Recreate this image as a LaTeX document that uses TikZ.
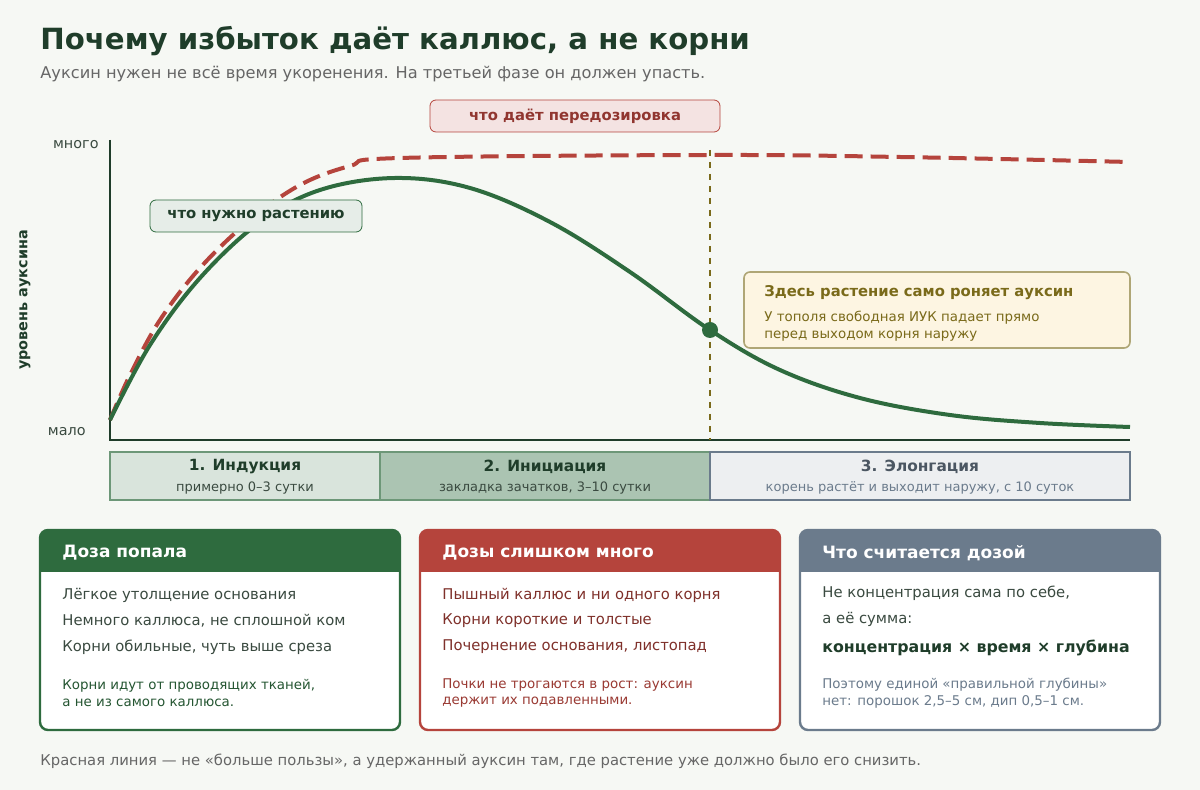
\documentclass[tikz,border=0pt]{standalone}
\usepackage{fontspec}
\setmainfont{DejaVu Sans}
\begin{document}
\definecolor{bg}{HTML}{F6F8F4}
\definecolor{dg}{HTML}{1F3D2A}
\definecolor{gr}{HTML}{2E6B3E}
\definecolor{rd}{HTML}{B5443C}
\definecolor{sl}{HTML}{6B7B8C}
\definecolor{ol}{HTML}{7A6A1A}
\definecolor{tx}{HTML}{3A4A40}
\definecolor{yf}{HTML}{FDF5E2}
\begin{tikzpicture}[x=0.5pt,y=-0.5pt,
  card/.style={draw=#1,line width=1.2pt,fill=white,rounded corners=4pt},
  lbl/.style={anchor=west,inner sep=0pt,font=\fontsize{7.4}{9}\selectfont,text=tx},
  sm/.style={anchor=west,inner sep=0pt,font=\fontsize{6.7}{8.2}\selectfont,align=left}]
\fill[bg] (0,0) rectangle (1200,790);
\useasboundingbox (0,0) rectangle (1200,790);
\node[anchor=west,inner sep=0pt,font=\bfseries\fontsize{14.6}{17}\selectfont,text=dg] (title) at (40,41) {Почему избыток даёт каллюс, а не корни};
\node[anchor=west,inner sep=0pt,font=\fontsize{8.1}{10}\selectfont,text=gray!80!black] (sub) at (40,74) {Ауксин нужен не всё время укоренения. На третьей фазе он должен упасть.};
% axes
\draw[dg,line width=1.2pt] (110,140) -- (110,440) -- (1130,440);
\node[anchor=east,inner sep=0pt,font=\fontsize{7.2}{8}\selectfont,text=tx] (hi) at (99,145) {много};
\node[anchor=east,inner sep=0pt,font=\fontsize{7.2}{8}\selectfont,text=tx] (lo) at (86,432) {мало};
\node[rotate=90,font=\bfseries\fontsize{7.2}{8}\selectfont,text=dg] (yl) at (25,300) {уровень ауксина};
\draw[ol,dashed,line width=0.6pt] (710,150) -- (710,440);
\draw[rd,line width=2pt,dash pattern=on 9pt off 4pt] plot[smooth,tension=0.6] coordinates {(110,420) (130,375) (160,320) (200,268) (250,220) (300,185) (350,166) (400,158) (710,155) (900,157) (1130,162)};
\draw[gr,line width=2pt] plot[smooth,tension=0.6] coordinates {(110,420) (150,345) (200,278) (260,222) (320,190) (395,178) (470,188) (550,222) (630,272) (710,330) (780,370) (860,398) (950,415) (1040,423) (1130,427)};
\fill[gr] (710,330) circle (8);
\node[draw=rd,fill=rd!15,rounded corners=3pt,minimum width=145pt,minimum height=16pt,font=\bfseries\fontsize{7.4}{9}\selectfont,text=rd!80!black] (od) at (575,116) {что даёт передозировка};
\node[draw=gr,fill=gr!12,rounded corners=3pt,minimum width=106pt,minimum height=16pt,font=\bfseries\fontsize{7.4}{9}\selectfont,text=dg] (nd) at (256,216) {что нужно растению};
\draw[draw=ol!60,fill=yf,rounded corners=3pt,line width=0.8pt] (744,272) rectangle (1130,348);
\node[anchor=west,inner sep=0pt,font=\bfseries\fontsize{7.4}{9}\selectfont,text=ol] (yt) at (764,293) {Здесь растение само роняет ауксин};
\node[sm,text=ol] (yb) at (764,326) {У тополя свободная ИУК падает прямо\\перед выходом корня наружу};
% phases
\draw[gr!70,fill=gr!18,line width=0.6pt] (110,452) rectangle (380,500);
\draw[gr!70,fill=gr!40,line width=0.6pt] (380,452) rectangle (710,500);
\draw[sl,fill=sl!12,line width=0.6pt] (710,452) rectangle (1130,500);
\node[font=\bfseries\fontsize{7.7}{9}\selectfont,text=dg] (p1) at (245,467) {1. Индукция};
\node[font=\fontsize{6.5}{8}\selectfont,text=tx] (p1s) at (245,488) {примерно 0–3 сутки};
\node[font=\bfseries\fontsize{7.7}{9}\selectfont,text=dg] (p2) at (545,467) {2. Инициация};
\node[font=\fontsize{6.5}{8}\selectfont,text=tx] (p2s) at (545,488) {закладка зачатков, 3–10 сутки};
\node[font=\bfseries\fontsize{7.7}{9}\selectfont,text=sl!70!black] (p3) at (920,467) {3. Элонгация};
\node[font=\fontsize{6.5}{8}\selectfont,text=sl] (p3s) at (920,488) {корень растёт и выходит наружу, с 10 суток};
% cards
\foreach \x/\c in {40/gr,420/rd,800/sl}{
  \draw[card=\c] (\x,530) rectangle (\x+360,730);
  \fill[\c,rounded corners=4pt] (\x,530) rectangle (\x+360,572);
  \fill[\c] (\x,556) rectangle (\x+360,572);
}
\node[anchor=west,inner sep=0pt,font=\bfseries\fontsize{8.5}{10}\selectfont,text=white] (h1) at (62,553) {Доза попала};
\node[anchor=west,inner sep=0pt,font=\bfseries\fontsize{8.5}{10}\selectfont,text=white] (h2) at (442,553) {Дозы слишком много};
\node[anchor=west,inner sep=0pt,font=\bfseries\fontsize{8.5}{10}\selectfont,text=white] (h3) at (822,553) {Что считается дозой};
\node[lbl] (a1) at (62,595) {Лёгкое утолщение основания};
\node[lbl] (a2) at (62,621) {Немного каллюса, не сплошной ком};
\node[lbl] (a3) at (62,647) {Корни обильные, чуть выше среза};
\node[sm,text=gr!80!black] (a4) at (62,693) {Корни идут от проводящих тканей,\\а не из самого каллюса.};
\node[lbl,text=rd!70!black] (b1) at (442,595) {Пышный каллюс и ни одного корня};
\node[lbl,text=rd!70!black] (b2) at (442,621) {Корни короткие и толстые};
\node[lbl,text=rd!70!black] (b3) at (442,647) {Почернение основания, листопад};
\node[sm,text=rd!85!black] (b4) at (442,693) {Почки не трогаются в рост: ауксин\\держит их подавленными.};
\node[lbl,align=left,font=\fontsize{7.4}{13}\selectfont] (c1) at (822,606) {Не концентрация сама по себе,\\а её сумма:};
\node[anchor=west,inner sep=0pt,font=\bfseries\fontsize{7.9}{9}\selectfont,text=dg] (c2) at (822,648) {концентрация × время × глубина};
\node[sm,text=sl] (c3) at (822,693) {Поэтому единой «правильной глубины»\\нет: порошок 2,5–5 см, дип 0,5–1 см.};
\node[anchor=west,inner sep=0pt,font=\fontsize{7.4}{9}\selectfont,text=gray!80!black] (ft) at (40,761) {Красная линия — не «больше пользы», а удержанный ауксин там, где растение уже должно было его снизить.};
\end{tikzpicture}
\end{document}
